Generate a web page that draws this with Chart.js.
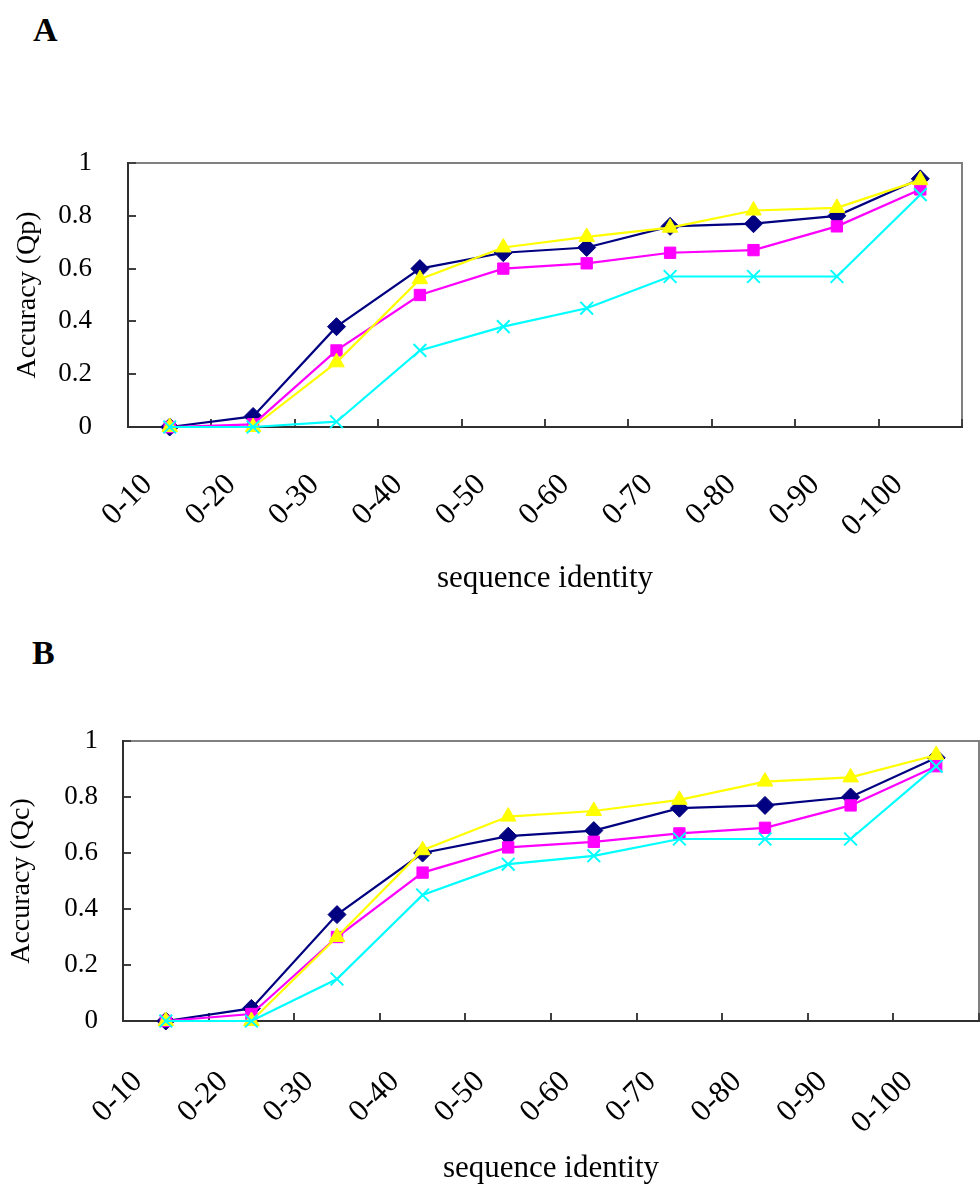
<!DOCTYPE html>
<html>
<head>
<meta charset="utf-8">
<script src="https://cdn.jsdelivr.net/npm/chart.js@4.4.1/dist/chart.umd.min.js"></script>
<style>
  html, body { margin: 0; padding: 0; background: #fff; overflow: hidden; width: 980px; height: 1191px; }
  .panel { position: absolute; left: 0; }
  .tag { position: absolute; font: bold 34px "Liberation Serif", serif; line-height: 34px; color: #000; }
</style>
</head>
<body>
<div class="tag" style="left:33px;top:13px">A</div>
<canvas id="chartQp" class="panel" width="980" height="480" style="top:130px"></canvas>
<div class="tag" style="left:32px;top:636px">B</div>
<canvas id="chartQc" class="panel" width="990" height="491" style="top:700px"></canvas>

<script>
// ===============================
// DATA
// ===============================
const categories = ["0-10", "0-20", "0-30", "0-40", "0-50", "0-60", "0-70", "0-80", "0-90", "0-100"];
const yTicks = [0, 0.2, 0.4, 0.6, 0.8, 1];

// panel A : Accuracy (Qp)
const qpNavy    = [0, 0.04, 0.38, 0.60, 0.66, 0.68, 0.76, 0.77, 0.80, 0.94];
const qpMagenta = [0, 0.01, 0.29, 0.50, 0.60, 0.62, 0.66, 0.67, 0.76, 0.90];
const qpYellow  = [0, 0, 0.245, 0.56, 0.68, 0.72, 0.755, 0.82, 0.83, 0.935];
const qpCyan    = [0, 0, 0.02, 0.29, 0.38, 0.45, 0.57, 0.57, 0.57, 0.88];

// panel B : Accuracy (Qc)
const qcNavy    = [0, 0.045, 0.38, 0.60, 0.66, 0.68, 0.76, 0.77, 0.80, 0.94];
const qcMagenta = [0, 0.025, 0.30, 0.53, 0.62, 0.64, 0.67, 0.69, 0.77, 0.91];
const qcYellow  = [0, 0, 0.30, 0.61, 0.73, 0.75, 0.79, 0.855, 0.87, 0.95];
const qcCyan    = [0, 0, 0.15, 0.45, 0.56, 0.59, 0.65, 0.65, 0.65, 0.91];

// ===============================
// SERIES STYLE
// ===============================
function buildDatasets(navy, magenta, yellow, cyan) {
  return [
    { label: "Series 1", data: navy, borderColor: "#000080", backgroundColor: "#000080",
      pointStyle: "rectRot", pointRadius: 9, pointBorderWidth: 1, order: 4 },
    { label: "Series 2", data: magenta, borderColor: "#ff00ff", backgroundColor: "#ff00ff",
      pointStyle: "rect", pointRadius: 8, pointBorderWidth: 1, order: 3 },
    { label: "Series 3", data: yellow, borderColor: "#ffff00", backgroundColor: "#ffff00",
      pointStyle: "triangle", pointRadius: 9, pointBorderWidth: 1, order: 2 },
    { label: "Series 4", data: cyan, borderColor: "#00ffff", backgroundColor: "#00ffff",
      pointStyle: "crossRot", pointRadius: 9, pointBorderWidth: 2, order: 1 }
  ].map(ds => Object.assign(ds, { borderWidth: 2.2, tension: 0, clip: false }));
}

// gray plot frame (top / right), axes are drawn over it
const plotFrame = {
  id: "plotFrame",
  beforeDraw(chart) {
    const { ctx, chartArea: a } = chart;
    ctx.save();
    ctx.strokeStyle = "#808080";
    ctx.lineWidth = 2;
    ctx.strokeRect(a.left, a.top, a.right - a.left, a.bottom - a.top);
    ctx.restore();
  }
};

// no automatic label padding, the plot box is set by hand
function noPadding(scale) {
  scale.paddingTop = 0;
  scale.paddingBottom = 0;
  scale.paddingLeft = 0;
  scale.paddingRight = 0;
}

// ===============================
// CHART
// ===============================
function makeChart(id, datasets, yTitle, g) {
  const serif = "'Liberation Serif', 'Times New Roman', serif";
  return new Chart(document.getElementById(id), {
    type: "line",
    data: { labels: categories, datasets },
    plugins: [plotFrame],
    options: {
      responsive: false,
      animation: false,
      events: [],
      layout: { padding: { top: g.padTop, right: g.padRight, left: 0, bottom: 0 } },
      plugins: { legend: { display: false }, tooltip: { enabled: false } },
      scales: {
        x: {
          type: "category",
          offset: true,
          grid: { offset: true, drawOnChartArea: false, tickLength: -8, color: "#404040", lineWidth: 2 },
          border: { color: "#303030", width: 2 },
          ticks: {
            color: "#000", font: { family: serif, size: 31 },
            minRotation: 45, maxRotation: 45, autoSkip: false,
            padding: g.xPad, labelOffset: g.xLabelOffset
          },
          title: {
            display: true, text: "sequence identity", color: "#000",
            font: { family: serif, size: 31 }, padding: { top: 0, bottom: g.xTitlePad }
          },
          afterFit(scale) { scale.height = g.xHeight; noPadding(scale); }
        },
        y: {
          min: 0, max: 1,
          afterBuildTicks(scale) { scale.ticks = yTicks.map(v => ({ value: v })); },
          grid: { drawOnChartArea: false, tickLength: -8, color: "#404040", lineWidth: 2 },
          border: { color: "#303030", width: 2 },
          ticks: {
            color: "#000", font: { family: serif, size: 27 }, padding: g.yPad,
            callback: v => String(v)
          },
          title: {
            display: true, text: yTitle, color: "#000",
            font: { family: serif, size: 28 }, padding: { top: g.yTitlePad, bottom: 0 }
          },
          afterFit(scale) { scale.width = g.yWidth; noPadding(scale); }
        }
      }
    }
  });
}

makeChart("chartQp", buildDatasets(qpNavy, qpMagenta, qpYellow, qpCyan), "Accuracy (Qp)", {
  padTop: 33, padRight: 18, yWidth: 128, xHeight: 183,
  yPad: 44, yTitlePad: 11, xPad: 48, xLabelOffset: -22, xTitlePad: 13
});

makeChart("chartQc", buildDatasets(qcNavy, qcMagenta, qcYellow, qcCyan), "Accuracy (Qc)", {
  padTop: 41, padRight: 5, yWidth: 123, xHeight: 170,
  yPad: 33, yTitlePad: 5, xPad: 51, xLabelOffset: -28, xTitlePad: 4
});
</script>
</body>
</html>
